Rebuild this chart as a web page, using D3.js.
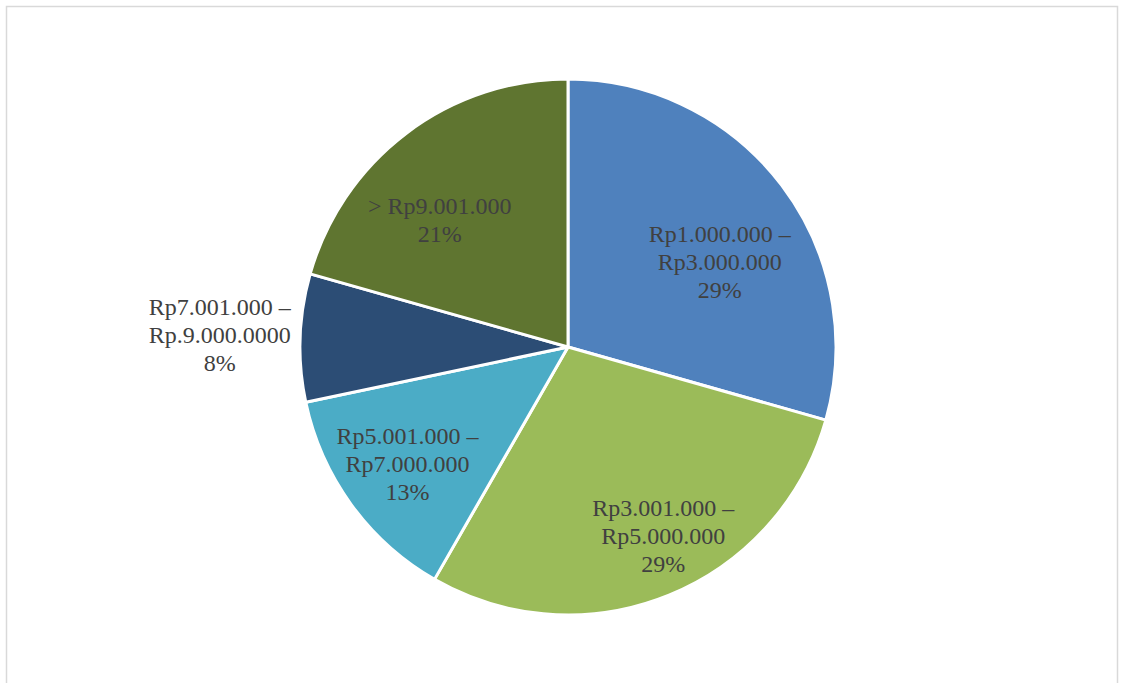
<!DOCTYPE html>
<html>
<head>
<meta charset="utf-8">
<script src="https://cdn.jsdelivr.net/npm/d3@7"></script>
<style>
  body { margin: 0; background: #fff; }
  svg { display: block; }
</style>
</head>
<body>
<script>
const width = 1124, height = 683

// slice data, clockwise from 12 o'clock
const categories = [
    ['Rp1.000.000 –', 'Rp3.000.000'],
    ['Rp3.001.000 –', 'Rp5.000.000'],
    ['Rp5.001.000 –', 'Rp7.000.000'],
    ['Rp7.001.000 –', 'Rp.9.000.0000'],
    ['> Rp9.001.000']
]
const values = [29.4, 28.9, 13.4, 7.7, 20.6]
const percentLabels = ['29%', '29%', '13%', '8%', '21%']
const colors = ['#4f81bd', '#9bbb59', '#4bacc6', '#2c4d75', '#5f7530']

// label placement (Excel best fit): share of radius, angle shift in degrees
const labelR = [0.65, 0.79, 0.74, 1.3, 0.675]
const labelShift = [7.7, -4.6, 0, 0, -8.1]

const cx = 568, cy = 347, radius = 268

const svg = d3.select('body').append('svg')
    .attr('width', width)
    .attr('height', height)

// chart frame
svg.append('rect')
    .attr('x', 6.5).attr('y', 6.5)
    .attr('width', 1111).attr('height', 700)
    .attr('fill', 'none')
    .attr('stroke', '#d9d9d9')
    .attr('stroke-width', 1.5)

const pie = d3.pie().sort(null).value(d => d)
const arcs = pie(values)

const arc = d3.arc().innerRadius(0).outerRadius(radius)

const g = svg.append('g')
    .attr('transform', 'translate(' + cx + ',' + cy + ')')

g.selectAll('path')
    .data(arcs)
    .enter()
    .append('path')
    .attr('d', arc)
    .attr('fill', (d, i) => colors[i])
    .attr('stroke', '#fff')
    .attr('stroke-width', 3)
    .attr('stroke-linejoin', 'round')

// labels
const lineH = 28
arcs.forEach((d, i) => {
    const shift = labelShift[i] * Math.PI / 180
    const la = d3.arc().innerRadius(radius * labelR[i]).outerRadius(radius * labelR[i])
    const [x, y] = la.centroid({startAngle: d.startAngle + shift, endAngle: d.endAngle + shift})
    const lines = categories[i].concat([percentLabels[i]])
    const t = g.append('text')
        .attr('text-anchor', 'middle')
        .attr('font-family', '"Liberation Serif", "Times New Roman", serif')
        .attr('font-size', 24)
        .attr('fill', '#404040')
    lines.forEach((s, k) => {
        t.append('tspan')
            .attr('x', x)
            .attr('y', y + (k - (lines.length - 1) / 2) * lineH)
            .attr('dy', '0.35em')
            .text(s)
    })
})
</script>
</body>
</html>
